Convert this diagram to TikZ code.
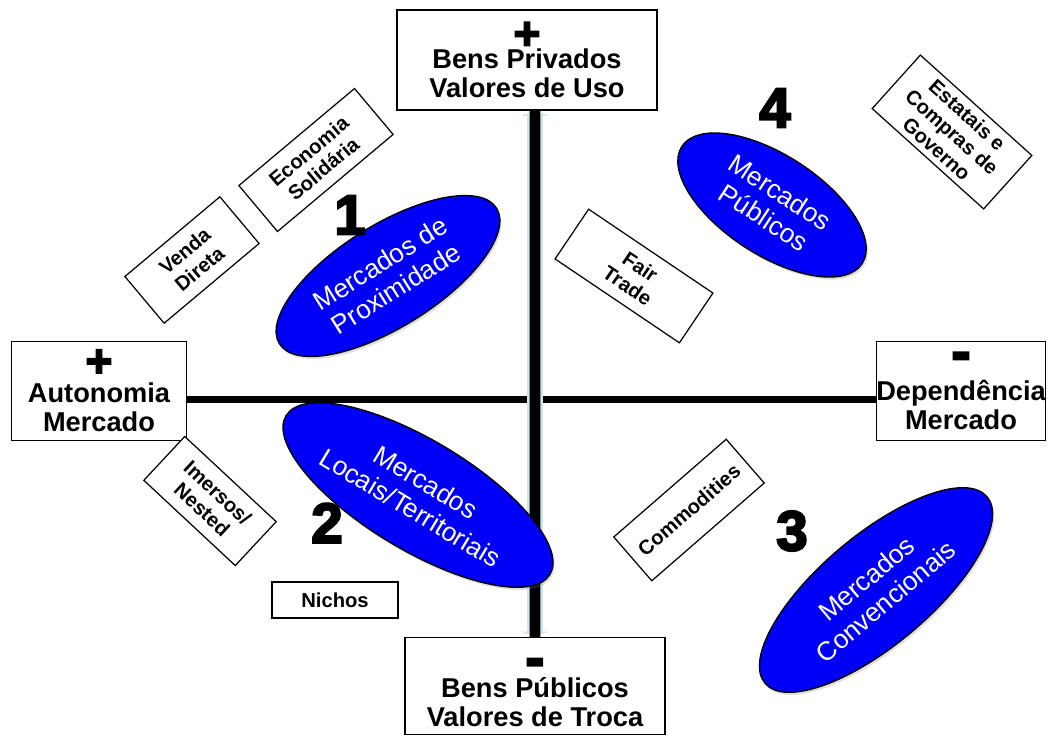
\documentclass[tikz,border=0pt]{standalone}
\usepackage{fontspec}
\setmainfont{Liberation Sans}
\newfontfamily\heavyfont[FakeBold=4]{Liberation Sans Bold}
\usetikzlibrary{shapes.geometric,shadows,arrows.meta}
\definecolor{mktblue}{RGB}{0,0,250}
\definecolor{axisglow}{RGB}{205,232,236}
\newcommand{\plussign}{{\fontsize{26}{26}\heavyfont +}}
\newcommand{\minussign}{{\fontsize{32}{32}\heavyfont -}}

\begin{document}
\begin{tikzpicture}[x=0.02cm, y=-0.02cm,
    axisbox/.style={draw, fill=white, line width=0.8pt, align=center, inner sep=0pt,
      font=\fontsize{15.5}{16.5}\selectfont\bfseries},
    tagbox/.style={draw, fill=white, line width=0.7pt, align=center, inner sep=0pt,
      font=\fontsize{11.5}{13}\selectfont\bfseries},
    market/.style={ellipse, draw, line width=0.8pt, fill=mktblue, text=white, align=center,
      inner sep=0pt, font=\fontsize{15}{17}\selectfont,
      drop shadow={shadow xshift=1pt, shadow yshift=-1.5pt, opacity=0.25}},
    quadnum/.style={font=\fontsize{32}{32}\heavyfont}]
    \fill[white] (0,0) rectangle (1048,738);
    \useasboundingbox (0,0) rectangle (1048,738);

    % Axis boxes
    \node[axisbox, minimum width=5.2cm, minimum height=2cm] (privados) at (527,60)
      {\plussign\\[-5.5pt]Bens Privados\\Valores de Uso};
    \node[axisbox, minimum width=5.2cm, minimum height=1.94cm] (publicos) at (535,686)
      {\rule{0pt}{18pt}\minussign\\[-4.5pt]Bens Públicos\\Valores de Troca};
    \node[axisbox, minimum width=3.5cm, minimum height=1.98cm] (autonomia) at (99,391)
      {\plussign\\[-1.5pt]Autonomia\\Mercado};
    \node[axisbox, minimum width=3.36cm, minimum height=1.98cm] (dependencia) at (961,391)
      {\minussign\\[0.5pt]Dependência\\Mercado};

    % Axes
    \draw[line width=4.5pt] ([yshift=-0.17cm]autonomia.east) -- ([yshift=-0.17cm]dependencia.west);
    \draw[axisglow, line width=9pt, {Triangle[width=16pt,length=3pt]}-{Triangle[width=16pt,length=3pt]}]
      ([xshift=0.16cm]privados.south) -- (publicos.north);
    \draw[line width=6pt] ([xshift=0.16cm]privados.south) -- (publicos.north);

    % Markets
    \node[market, minimum width=5.12cm, minimum height=2.04cm, rotate=32] (proximidade) at (388,276)
      {Mercados de\\Proximidade};
    \node[market, minimum width=6.16cm, minimum height=2.2cm, rotate=-31] (locais) at (418,495)
      {Mercados\\Locais/Territoriais};
    \node[market, minimum width=4.3cm, minimum height=2cm, rotate=-33] (publicosmkt) at (772,205)
      {Mercados\\Públicos};
    \node[market, minimum width=5.8cm, minimum height=2.2cm, rotate=40] (convencionais) at (876,590)
      {Mercados\\Convencionais};

    % Quadrant numbers
    \node[quadnum] (q1) at (350,215) {1};
    \node[quadnum] (q2) at (327,523) {2};
    \node[quadnum] (q3) at (792,531) {3};
    \node[quadnum] (q4) at (775,108) {4};

    % Tags
    \node[tagbox, minimum width=2.48cm, minimum height=1.22cm, rotate=40] (venda) at (192,260) {Venda\\Direta};
    \node[tagbox, minimum width=3.02cm, minimum height=1.2cm, rotate=40] (economia) at (316,160) {Economia\\Solidária};
    \node[tagbox, minimum width=3cm, minimum height=1.2cm, rotate=-34] (fair) at (634,276) {Fair\\Trade};
    \node[tagbox, minimum width=3cm, minimum height=1.44cm, rotate=-42] (estatais) at (952,132) {Estatais e\\Compras de\\Governo};
    \node[tagbox, minimum width=2.5cm, minimum height=1.2cm, rotate=-43] (imersos) at (210,501) {Imersos/\\Nested};
    \node[tagbox, minimum width=2.98cm, minimum height=1.16cm, rotate=41] (commodities) at (689,510) {Commodities};
    \node[tagbox, minimum width=2.52cm, minimum height=0.72cm] (nichos) at (335,600) {Nichos};
\end{tikzpicture}
\end{document}
